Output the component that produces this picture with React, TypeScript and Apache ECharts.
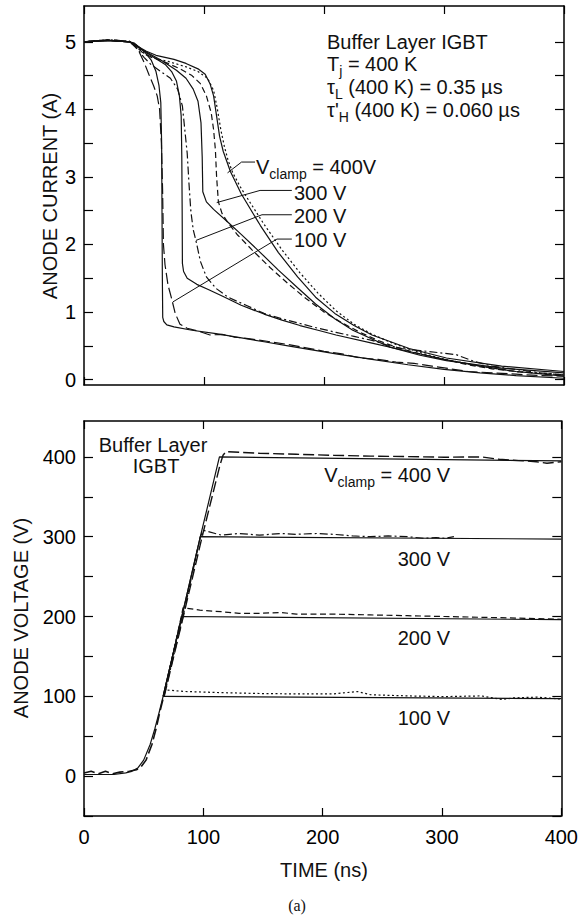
import React, { useEffect, useRef } from "react";
import * as echarts from "echarts";

// ---------- tick values ----------
const TIME_TICKS = [0, 100, 200, 300, 400];
const CURRENT_TICKS = [0, 0.5, 1, 1.5, 2, 2.5, 3, 3.5, 4, 4.5, 5];
const CURRENT_LABELS = [0, 1, 2, 3, 4, 5];
const VOLTAGE_TICKS = [-50, 0, 50, 100, 150, 200, 250, 300, 350, 400];
const VOLTAGE_LABELS = [0, 100, 200, 300, 400];

// ---------- anode current (A) vs time (ns) ----------
const cur400Sim: number[][] = [[0,5.0],[20,5.02],[38,5.0],[45,4.93],[52,4.86],[60,4.8],[75,4.74],[85,4.68],[95,4.6],[101,4.52],[105,4.38],[108,4.2],[110.5,3.9],[113,3.6],[116,3.38],[122,3.08],[131,2.75],[147,2.28],[162,1.88],[178,1.52],[193,1.22],[209,0.98],[225,0.8],[240,0.66],[271,0.46],[302,0.32],[348,0.2],[400,0.12]];
const cur400Meas: number[][] = [[0,5.0],[20,5.03],[38,5.01],[45,4.92],[50,4.83],[56,4.77],[70,4.71],[85,4.63],[95,4.56],[103,4.46],[108,4.28],[111,4.02],[114,3.7],[117,3.45],[120,3.25],[124,3.06],[130,2.86],[137,2.66],[150,2.3],[165,1.92],[180,1.58],[195,1.28],[210,1.02],[225,0.82],[240,0.67],[260,0.52],[280,0.4],[300,0.3],[330,0.2],[360,0.12],[400,0.07]];
const cur300Sim: number[][] = [[0,5.0],[20,5.02],[38,5.0],[45,4.92],[52,4.85],[65,4.72],[77,4.58],[85,4.46],[91,4.3],[95,4.12],[97.5,3.8],[98.5,3.3],[99,2.78],[102,2.63],[108,2.52],[120,2.33],[131,2.15],[147,1.88],[162,1.62],[178,1.36],[193,1.12],[209,0.9],[224,0.73],[240,0.6],[255,0.48],[280,0.36],[302,0.28],[348,0.17],[400,0.1]];
const cur300Meas: number[][] = [[0,5.0],[20,5.02],[38,5.0],[44,4.92],[50,4.82],[60,4.75],[70,4.68],[80,4.6],[90,4.5],[97,4.38],[102,4.2],[106,3.95],[108,3.7],[109.5,3.4],[110.5,3.0],[112,2.63],[115,2.46],[120,2.32],[128,2.14],[140,1.92],[155,1.66],[170,1.42],[185,1.2],[200,1.0],[215,0.84],[230,0.7],[245,0.58],[260,0.48],[280,0.38],[300,0.3],[320,0.22],[340,0.16],[360,0.12],[380,0.09],[400,0.07]];
const cur200Sim: number[][] = [[0,5.0],[20,5.02],[38,5.0],[43,4.96],[50,4.86],[60,4.75],[68,4.66],[73,4.56],[77,4.42],[79.5,4.2],[81,3.9],[81.5,3.3],[81.8,2.5],[82,1.72],[83,1.6],[86,1.5],[94,1.41],[104,1.33],[116,1.23],[131,1.1],[150,0.97],[165,0.88],[180,0.8],[195,0.73],[210,0.66],[240,0.54],[270,0.42],[300,0.3],[330,0.2],[360,0.12],[400,0.05]];
const cur200Meas: number[][] = [[0,5.0],[20,5.02],[38,5.0],[44,4.9],[50,4.77],[56,4.66],[64,4.56],[72,4.46],[78,4.3],[82,4.05],[84,3.7],[86,3.35],[87.5,2.9],[89,2.5],[91,2.22],[93.5,2.04],[97,1.75],[102,1.52],[110,1.35],[120,1.22],[135,1.1],[150,0.98],[165,0.9],[180,0.83],[195,0.76],[210,0.7],[225,0.64],[240,0.58],[255,0.5],[265,0.46],[280,0.43],[295,0.4],[310,0.37],[325,0.27],[340,0.2],[360,0.15],[380,0.1],[400,0.07]];
const cur100Sim: number[][] = [[0,5.0],[20,5.02],[38,5.0],[42,4.98],[46,4.92],[51,4.84],[56,4.73],[60,4.56],[62.5,4.35],[64,4.1],[64.7,3.5],[65,2.5],[65.3,1.5],[65.6,0.92],[66.5,0.86],[69,0.81],[75,0.78],[90,0.73],[110,0.68],[130,0.62],[150,0.56],[170,0.5],[190,0.44],[210,0.38],[240,0.3],[270,0.22],[300,0.15],[330,0.1],[360,0.06],[400,0.02]];
const cur100Meas: number[][] = [[0,5.0],[10,5.02],[25,5.03],[38,5.0],[42,4.95],[46,4.85],[50,4.7],[54,4.52],[58,4.35],[61,4.2],[63,4.0],[64.5,3.5],[65.5,2.8],[66.2,2.0],[67.5,1.7],[70,1.4],[73,1.2],[76,0.98],[80,0.82],[86,0.76],[95,0.72],[105,0.66],[115,0.67],[125,0.63],[140,0.6],[155,0.56],[170,0.52],[185,0.47],[200,0.42],[215,0.38],[230,0.32],[245,0.3],[260,0.26],[275,0.24],[290,0.2],[305,0.16],[320,0.12],[340,0.1],[360,0.08],[380,0.06],[400,0.05]];

// leader lines of the current plot (data coordinates)
const lead400: number[][] = [[142.5,3.22],[131.3,3.22],[119.6,3.06]];
const lead300: number[][] = [[173.2,2.8],[146.7,2.8],[110.6,2.62]];
const lead200: number[][] = [[173.2,2.44],[148.3,2.44],[93.3,2.06]];
const lead100: number[][] = [[173.2,2.08],[160.8,2.08],[74.1,1.15]];

// ---------- anode voltage (V) vs time (ns) ----------
const riseSim: number[][] = [[0,2],[25,2],[35,4],[40,6],[45,10],[50,20],[55.5,40],[59.5,60],[63,80],[66.3,100]];
const riseMeas: number[][] = [[0,4],[6,6],[12,3],[18,6],[24,3],[30,5],[38,6],[44,8],[48,12],[52,20],[57,40],[60.5,60],[63.5,80],[66.8,100]];
const volt100Sim: number[][] = [[66.3,100],[400,97]];
const volt200Sim: number[][] = [[66.3,100],[82,200],[400,196]];
const volt300Sim: number[][] = [[66.3,100],[82,200],[97.5,300],[400,297]];
const volt400Sim: number[][] = [[66.3,100],[82,200],[97.5,300],[113.5,400],[400,395]];
const volt100Meas: number[][] = [[66.8,100],[68,108],[85,106],[115,104.6],[147,103.5],[178,103],[209,103],[229,106],[240,102],[260,101],[271,100.5],[302,99.6],[333,100.5],[350,96],[360,98],[380,99],[400,96.5]];
const volt200Meas: number[][] = [[66.8,100],[81.5,200],[83,211],[97,208],[115,206],[130,204],[147,204],[165,205],[178,203],[209,203],[240,202],[271,201],[302,200],[333,199],[364,198],[400,196.5]];
const volt300Meas: number[][] = [[67,100],[83,200],[97.5,300],[100,308],[105,306],[115,302],[130,304],[147,302],[165,304],[178,303],[195,304],[209,303],[225,301],[240,300],[255,301],[271,300],[285,298],[295,299],[302,298],[310,300]];
const volt400Meas: number[][] = [[67.2,100],[83.2,200],[99,300],[114,390],[116.5,402],[119,406.6],[147,404.6],[178,403.3],[209,402],[240,401],[271,400.4],[302,399.6],[333,400],[348,397],[364,395.4],[379,394],[388,392],[400,394]];

const FONT = "'Liberation Sans', Arial, Helvetica, sans-serif";
const INK = "#111";

const DOTTED = [2, 2.5];
const DASHED = [6, 3.5];
const DASH_DOT = [8, 3, 2, 3];
const LONG_DASH = [11, 4];

function lineSeries(data: number[][], type: any, axis: number, width = 1.2) {
  return {
    type: "line",
    data,
    xAxisIndex: axis,
    yAxisIndex: axis,
    showSymbol: false,
    symbol: "none",
    silent: true,
    animation: false,
    lineStyle: { color: INK, width, type },
  };
}

function xAxisDef(gridIndex: number, position: string, showLabels: boolean) {
  return {
    type: "value",
    gridIndex,
    position,
    min: 0,
    max: 400,
    interval: 100,
    axisLine: { show: true, onZero: false, lineStyle: { color: "#000", width: 1.5 } },
    axisTick: { show: true, inside: true, length: 8, lineStyle: { color: "#000", width: 1.2 } },
    axisLabel: {
      show: showLabels,
      margin: 11,
      fontSize: 20,
      fontFamily: FONT,
      color: "#000",
      customValues: TIME_TICKS,
    },
    splitLine: { show: false },
  };
}

function yAxisDef(gridIndex: number, position: string, showLabels: boolean, min: number, max: number, ticks: number[], labels: number[]) {
  return {
    type: "value",
    gridIndex,
    position,
    min,
    max,
    axisLine: { show: true, onZero: false, lineStyle: { color: "#000", width: 1.5 } },
    axisTick: { show: true, inside: true, length: 9, customValues: ticks, lineStyle: { color: "#000", width: 1.2 } },
    axisLabel: {
      show: showLabels,
      margin: 8,
      fontSize: 20,
      fontFamily: FONT,
      color: "#000",
      customValues: labels,
      formatter: (v: number) => String(Math.round(v * 100) / 100),
    },
    splitLine: { show: false },
  };
}

let measureCtx: CanvasRenderingContext2D | null = null;
function textWidth(text: string, size: number): number {
  if (!measureCtx) measureCtx = document.createElement("canvas").getContext("2d");
  if (!measureCtx) return text.length * size * 0.55;
  measureCtx.font = `${size}px 'Liberation Sans'`;
  return measureCtx.measureText(text).width;
}

function plainText(x: number, y: number, text: string, align = "left", extra: any = {}) {
  return {
    type: "text",
    x,
    y,
    silent: true,
    style: { text, align, verticalAlign: "middle", fontSize: 20, lineHeight: 20, fontFamily: FONT, fill: INK, ...extra },
  };
}

// text with subscripts: parts = [text, isSubscript]
function subscriptText(x: number, y: number, parts: [string, boolean][], align = "left") {
  const widths = parts.map(([t, s]) => textWidth(t, s ? 14 : 20));
  const total = widths.reduce((a, b) => a + b, 0);
  let cx = align === "right" ? x - total : x;
  const out: any[] = [];
  parts.forEach(([t, s], i) => {
    const size = s ? 14 : 20;
    const lead = t.length - t.replace(/^\s+/, "").length;
    const shift = lead > 0 ? textWidth(t.slice(0, lead), size) : 0;
    out.push({
      type: "text",
      x: cx + shift,
      y: s ? y + 7 : y,
      silent: true,
      style: {
        text: t.trim(),
        align: "left",
        verticalAlign: "middle",
        fontSize: size,
        lineHeight: s ? 12 : 20,
        fontFamily: FONT,
        fill: INK,
      },
    });
    cx += widths[i];
  });
  return out;
}

export default function App() {
  const ref = useRef<HTMLDivElement>(null);

  useEffect(() => {
    if (!ref.current) return;
    const chart = echarts.init(ref.current, undefined, { renderer: "svg" });

    const option: any = {
      animation: false,
      backgroundColor: "#fff",
      textStyle: { fontFamily: FONT },
      grid: [
        { left: 84, top: 6, width: 480, height: 379, containLabel: false },
        { left: 84, top: 421, width: 480, height: 395, containLabel: false },
      ],
      xAxis: [
        xAxisDef(0, "bottom", false),
        xAxisDef(1, "bottom", true),
        xAxisDef(0, "top", false),
        xAxisDef(1, "top", false),
      ],
      yAxis: [
        yAxisDef(0, "left", true, -0.08, 5.53, CURRENT_TICKS, CURRENT_LABELS),
        yAxisDef(1, "left", true, -50, 445, VOLTAGE_TICKS, VOLTAGE_LABELS),
        yAxisDef(0, "right", false, -0.08, 5.53, CURRENT_TICKS, CURRENT_LABELS),
        yAxisDef(1, "right", false, -50, 445, VOLTAGE_TICKS, VOLTAGE_LABELS),
      ],
      series: [
        // current plot: simulations (solid) and measurements (patterned)
        lineSeries(cur400Sim, "solid", 0),
        lineSeries(cur300Sim, "solid", 0),
        lineSeries(cur200Sim, "solid", 0),
        lineSeries(cur100Sim, "solid", 0),
        lineSeries(cur400Meas, DOTTED, 0),
        lineSeries(cur300Meas, DASHED, 0),
        lineSeries(cur200Meas, DASH_DOT, 0),
        lineSeries(cur100Meas, LONG_DASH, 0),
        lineSeries(lead400, "solid", 0, 1),
        lineSeries(lead300, "solid", 0, 1),
        lineSeries(lead200, "solid", 0, 1),
        lineSeries(lead100, "solid", 0, 1),
        // voltage plot
        lineSeries(riseSim, "solid", 1),
        lineSeries(riseMeas, LONG_DASH, 1, 1.6),
        lineSeries(volt100Sim, "solid", 1),
        lineSeries(volt200Sim, "solid", 1),
        lineSeries(volt300Sim, "solid", 1),
        lineSeries(volt400Sim, "solid", 1),
        lineSeries(volt100Meas, DOTTED, 1),
        lineSeries(volt200Meas, DASHED, 1),
        lineSeries(volt300Meas, DASH_DOT, 1),
        lineSeries(volt400Meas, LONG_DASH, 1, 1.4),
      ],
      graphic: [
        // axis titles
        { ...plainText(50, 196, "ANODE CURRENT (A)", "center"), rotation: Math.PI / 2 },
        { ...plainText(21, 618, "ANODE VOLTAGE (V)", "center"), rotation: Math.PI / 2 },
        plainText(324, 870, "TIME (ns)", "center"),
        plainText(297, 905, "(a)", "center", { fontFamily: "'Liberation Serif', 'Times New Roman', serif", fontSize: 16, lineHeight: 16 }),
        // current plot annotation block
        plainText(327, 42, "Buffer Layer IGBT"),
        ...subscriptText(327, 64, [["T", false], ["j", true], [" = 400 K", false]]),
        ...subscriptText(327, 87, [["τ", false], ["L", true], [" (400 K) = 0.35 µs", false]]),
        ...subscriptText(327, 110, [["τ'", false], ["H", true], [" (400 K) = 0.060 µs", false]]),
        // current plot clamp labels
        ...subscriptText(256, 167, [["V", false], ["clamp", true], [" = 400V", false]]),
        plainText(294, 193, "300 V"),
        plainText(294, 216, "200 V"),
        plainText(294, 240, "100 V"),
        // voltage plot labels
        plainText(153, 445, "Buffer Layer", "center"),
        plainText(156, 466, "IGBT", "center"),
        ...subscriptText(450, 475, [["V", false], ["clamp", true], [" = 400 V", false]], "right"),
        plainText(450, 559, "300 V", "right"),
        plainText(450, 638, "200 V", "right"),
        plainText(450, 718, "100 V", "right"),
      ],
    };

    chart.setOption(option);
    return () => chart.dispose();
  }, []);

  return (
    <div
      ref={ref}
      style={{ position: "absolute", left: 0, top: 0, width: 581, height: 917, background: "#fff" }}
    />
  );
}
